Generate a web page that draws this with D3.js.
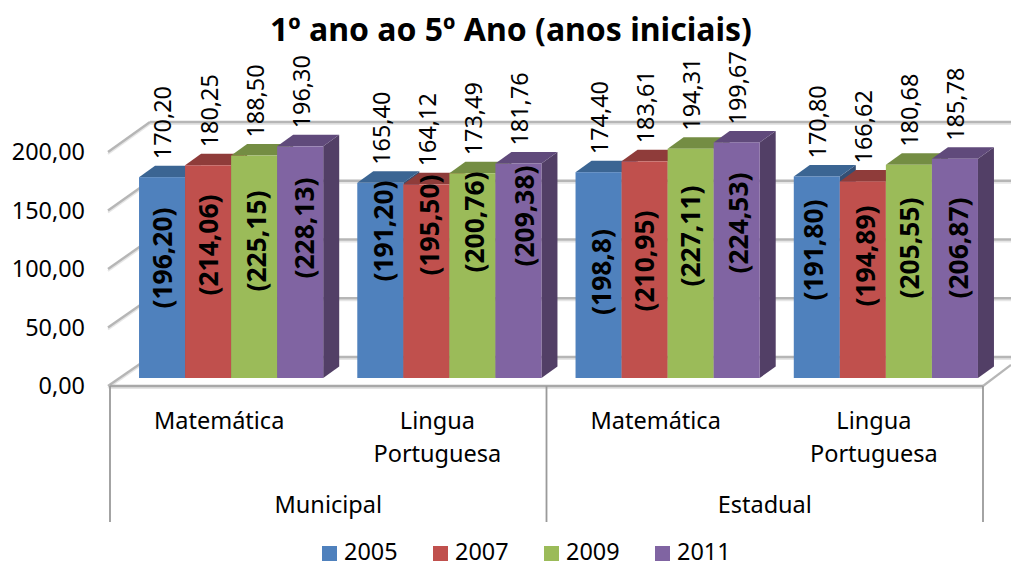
<!DOCTYPE html>
<html><head><meta charset="utf-8">
<script src="https://cdn.jsdelivr.net/npm/d3@7"></script>
<style>html,body{margin:0;padding:0;background:#fff}svg{display:block}text{font-family:"Noto Sans",sans-serif;fill:#000}</style>
</head><body><svg id="c" width="1011" height="563"></svg>
<script>
const title = "1º ano ao 5º Ano (anos iniciais)";
const years = ["2005","2007","2009","2011"];
const subjects = [["Matemática"],["Lingua","Portuguesa"],["Matemática"],["Lingua","Portuguesa"]];
const networks = ["Municipal","Estadual"];
const yTicks = [0,50,100,150,200];
const values2005 = [170.20,165.40,174.40,170.80];
const values2007 = [180.25,164.12,183.61,166.62];
const values2009 = [188.50,173.49,194.31,180.68];
const values2011 = [196.30,181.76,199.67,185.78];
const notes2005 = ["(196,20)","(191,20)","(198,8)","(191,80)"];
const notes2007 = ["(214,06)","(195,50)","(210,95)","(194,89)"];
const notes2009 = ["(225,15)","(200,76)","(227,11)","(205,55)"];
const notes2011 = ["(228,13)","(209,38)","(224,53)","(206,87)"];
const seriesValues = [values2005,values2007,values2009,values2011];
const seriesNotes = [notes2005,notes2007,notes2009,notes2011];
const fronts = ["#4f81bd","#c0504d","#9bbb59","#8064a2"];
const tops = ["#3b6593","#8f3c3a","#748d43","#604a7b"];
const sides = ["#344f74","#713130","#5d7135","#523f66"];
// hand placement of the bracketed labels (they sit off-centre in the source): [centre y, x shift]
const noteY = [[258,231,272,250],[245,225,261,256],[241,222,236,248],[228,216,223,248]];
const noteDx = [[0,3,3,-3],[0,3,0,3],[2,2,0,1],[4,6,2,4]];

const svg = d3.select("#c");
const dx = 16, dy = 11.5;
const yFront = d3.scaleLinear().domain([0,200]).range([386,152]);
const yBack  = d3.scaleLinear().domain([0,200]).range([357,122]);
const yBar   = d3.scaleLinear().domain([0,200]).range([378,142]);
const x0 = d3.scaleBand().domain(d3.range(4)).range([122,995.0]);
const x1 = d3.scaleBand().domain(d3.range(4)).range([0,x0.bandwidth()]).paddingInner(0).paddingOuter(0.37);
const frontX = d3.scaleBand().domain(d3.range(4)).range([110,983]);

const grid = "#b6b6b6";
function line(g,x1_,y1_,x2_,y2_,w,c){g.append("line").attr("x1",x1_).attr("y1",y1_).attr("x2",x2_).attr("y2",y2_).attr("stroke",c).attr("stroke-width",w);}
const gGrid = svg.append("g");
yTicks.forEach(t=>{
  line(gGrid,108,yFront(t)+2,150,yBack(t)+2,2,"#e6e6e6");
  line(gGrid,150,yBack(t)+2,1011,yBack(t)+2,2,"#e6e6e6");
  line(gGrid,108,yFront(t),150,yBack(t),2.4,grid);
  line(gGrid,150,yBack(t),1011,yBack(t),2.4,grid);
});
// floor and separators
line(gGrid,110,yFront(0)+2,983,yFront(0)+2,2,"#e4e4e4");
line(gGrid,110,yFront(0),983,yFront(0),2.4,"#a8a8a8");
line(gGrid,983,yFront(0),1011,365,2.2,grid);
[frontX(0),frontX(2),frontX(3)+frontX.bandwidth()].forEach(x=>line(gGrid,x,yFront(0),x,522,1.8,"#9a9a9a"));

// y axis
svg.append("g").attr("transform","translate(85,0)")
  .call(d3.axisLeft(yFront).tickValues(yTicks).tickSize(0).tickPadding(0).tickFormat(d=>d3.format(".2f")(d).replace(".",",")))
  .call(g=>g.select(".domain").remove())
  .call(g=>g.selectAll("text").style("font-size","23.4px").style("font-family",'"Noto Sans",sans-serif').attr("fill","#000"));

// bars
const gBars = svg.append("g");
x0.domain().forEach(g=>{
  seriesValues.forEach((vals,s)=>{
    const v = vals[g], x = x0(g)+x1(s), w = x1.bandwidth(), t = yBar(v), b = yBar(0);
    gBars.append("path").attr("d",`M${x+w},${t}L${x+w+dx},${t-dy}L${x+w+dx},${b-dy}L${x+w},${b}Z`).attr("fill",sides[s]);
    gBars.append("path").attr("d",`M${x},${t}L${x+dx},${t-dy}L${x+w+dx},${t-dy}L${x+w},${t}Z`).attr("fill",tops[s]);
  });
  seriesValues.forEach((vals,s)=>{
    const v = vals[g], x = x0(g)+x1(s), w = x1.bandwidth();
    gBars.append("rect").attr("x",x).attr("y",yBar(v)).attr("width",w).attr("height",yBar(0)-yBar(v)).attr("fill",fronts[s]);
  });
});

// labels
const gLab = svg.append("g");
x0.domain().forEach(g=>{
  seriesValues.forEach((vals,s)=>{
    const cx = x0(g)+x1(s)+x1.bandwidth()/2;
    gLab.append("text").attr("transform",`translate(${cx+1},${yBar(vals[g])-18}) rotate(-90)`)
      .attr("dy","0.36em").style("font-size","23.4px").text(d3.format(".2f")(vals[g]).replace(".",","));
    gLab.append("text").attr("transform",`translate(${cx+noteDx[s][g]},${noteY[s][g]}) rotate(-90)`)
      .attr("dy","0.36em").attr("text-anchor","middle").style("font-size","26.4px").style("font-weight","700").text(seriesNotes[s][g]);
  });
  const cx = frontX(g)+frontX.bandwidth()/2;
  subjects[g].forEach((ln,i)=>{
    gLab.append("text").attr("x",cx).attr("y",429+i*33).attr("text-anchor","middle").style("font-size","23.5px").text(ln);
  });
});
networks.forEach((n,i)=>{
  gLab.append("text").attr("x",frontX(i*2)+frontX.bandwidth()).attr("y",513).attr("text-anchor","middle").style("font-size","23.5px").text(n);
});
svg.append("text").attr("x",511).attr("y",41).attr("text-anchor","middle").style("font-size","32px").style("font-weight","700").text(title);

// legend
const legendX = d3.scalePoint().domain(years).range([322,655]);
years.forEach((y,i)=>{
  svg.append("rect").attr("x",legendX(y)).attr("y",546).attr("width",15).attr("height",15).attr("fill",fronts[i]);
  svg.append("text").attr("x",legendX(y)+22).attr("y",560).style("font-size","23.4px").text(y);
});
</script></body></html>
